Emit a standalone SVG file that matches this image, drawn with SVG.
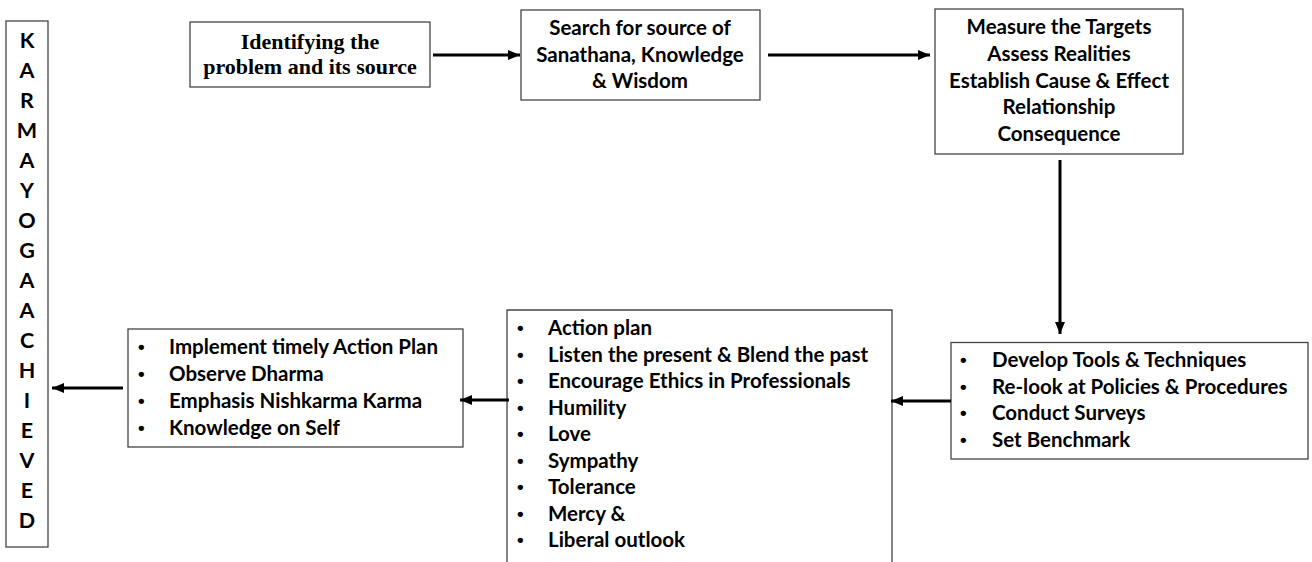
<svg xmlns="http://www.w3.org/2000/svg" width="1312" height="562" viewBox="0 0 1312 562">
<defs>
<style>
.box{fill:#fff;stroke:#444;stroke-width:1.3}
.t{font-family:Lato,"Liberation Sans",sans-serif;font-weight:bold;font-size:20.5px;fill:#000}
.b{font-family:"Liberation Sans",sans-serif;font-weight:bold;font-size:19px;fill:#000}
.c{text-anchor:middle}
.s{font-family:"Liberation Serif",serif;font-weight:bold;font-size:22px;fill:#000;text-anchor:middle}
.arr{stroke:#000;stroke-width:3;fill:none;marker-end:url(#ah)}
</style>
<marker id="ah" markerUnits="userSpaceOnUse" markerWidth="12" markerHeight="10" refX="12" refY="5" orient="auto">
<path d="M0,0 L12,5 L0,10 z" fill="#000"/>
</marker>
</defs>
<rect width="1312" height="562" fill="#fff"/>
<g id="karma">
<rect class="box" x="6" y="21" width="42" height="526"/>
<text class="t c" style="font-size:21.5px">
<tspan x="27" y="48">K</tspan><tspan x="27" y="78">A</tspan><tspan x="27" y="108">R</tspan><tspan x="27" y="138">M</tspan><tspan x="27" y="168">A</tspan><tspan x="27" y="198">Y</tspan><tspan x="27" y="228">O</tspan><tspan x="27" y="258">G</tspan><tspan x="27" y="288">A</tspan><tspan x="27" y="318">A</tspan><tspan x="27" y="348">C</tspan><tspan x="27" y="378">H</tspan><tspan x="27" y="408">I</tspan><tspan x="27" y="438">E</tspan><tspan x="27" y="468">V</tspan><tspan x="27" y="498">E</tspan><tspan x="27" y="528">D</tspan>
</text>
</g>
<g id="identify">
<rect class="box" x="190" y="22" width="240" height="65"/>
<text class="s"><tspan x="310" y="49">Identifying the</tspan><tspan x="310" y="74">problem and its source</tspan></text>
</g>
<g id="search">
<rect class="box" x="521" y="10" width="239" height="90"/>
<text class="t c"><tspan x="640" y="35">Search for source of</tspan><tspan x="640" y="62">Sanathana, Knowledge</tspan><tspan x="640" y="88">&amp; Wisdom</tspan></text>
</g>
<g id="measure">
<rect class="box" x="935" y="9" width="248" height="145"/>
<text class="t c"><tspan x="1059" y="34">Measure the Targets</tspan><tspan x="1059" y="61">Assess Realities</tspan><tspan x="1059" y="87.5">Establish Cause &amp; Effect</tspan><tspan x="1059" y="114">Relationship</tspan><tspan x="1059" y="141">Consequence</tspan></text>
</g>
<g id="develop">
<rect class="box" x="951" y="342.5" width="357" height="116.5"/>
<text class="b"><tspan x="960" y="366">•</tspan><tspan x="960" y="392.5">•</tspan><tspan x="960" y="419">•</tspan><tspan x="960" y="446">•</tspan></text>
<text class="t"><tspan x="992" y="367">Develop Tools &amp; Techniques</tspan><tspan x="992" y="393.5">Re-look at Policies &amp; Procedures</tspan><tspan x="992" y="420">Conduct Surveys</tspan><tspan x="992" y="447">Set Benchmark</tspan></text>
</g>
<g id="action">
<path class="box" d="M507,570 V310 H892 V570"/>
<text class="b"><tspan x="517" y="334">•</tspan><tspan x="517" y="360.5">•</tspan><tspan x="517" y="387">•</tspan><tspan x="517" y="413.5">•</tspan><tspan x="517" y="440">•</tspan><tspan x="517" y="466.5">•</tspan><tspan x="517" y="493">•</tspan><tspan x="517" y="519.5">•</tspan><tspan x="517" y="546">•</tspan></text>
<text class="t"><tspan x="548" y="335">Action plan</tspan><tspan x="548" y="361.5">Listen the present &amp; Blend the past</tspan><tspan x="548" y="388">Encourage Ethics in Professionals</tspan><tspan x="548" y="414.5">Humility</tspan><tspan x="548" y="441">Love</tspan><tspan x="548" y="467.5">Sympathy</tspan><tspan x="548" y="494">Tolerance</tspan><tspan x="548" y="520.5">Mercy &amp;</tspan><tspan x="548" y="547">Liberal outlook</tspan></text>
</g>
<g id="implement">
<rect class="box" x="128" y="329" width="335" height="118"/>
<text class="b"><tspan x="138" y="353">•</tspan><tspan x="138" y="380">•</tspan><tspan x="138" y="407">•</tspan><tspan x="138" y="434">•</tspan></text>
<text class="t"><tspan x="169" y="354">Implement timely Action Plan</tspan><tspan x="169" y="381">Observe Dharma</tspan><tspan x="169" y="408">Emphasis Nishkarma Karma</tspan><tspan x="169" y="435">Knowledge on Self</tspan></text>
</g>
<g id="connectors">
<line class="arr" x1="433" y1="55" x2="520" y2="55"/>
<line class="arr" x1="768" y1="55" x2="930" y2="55"/>
<line class="arr" x1="1060" y1="160" x2="1060" y2="334"/>
<line class="arr" x1="951" y1="401" x2="891" y2="401"/>
<line class="arr" x1="509" y1="400" x2="460" y2="400"/>
<line class="arr" x1="123" y1="388" x2="52" y2="388"/>
</g>
</svg>
